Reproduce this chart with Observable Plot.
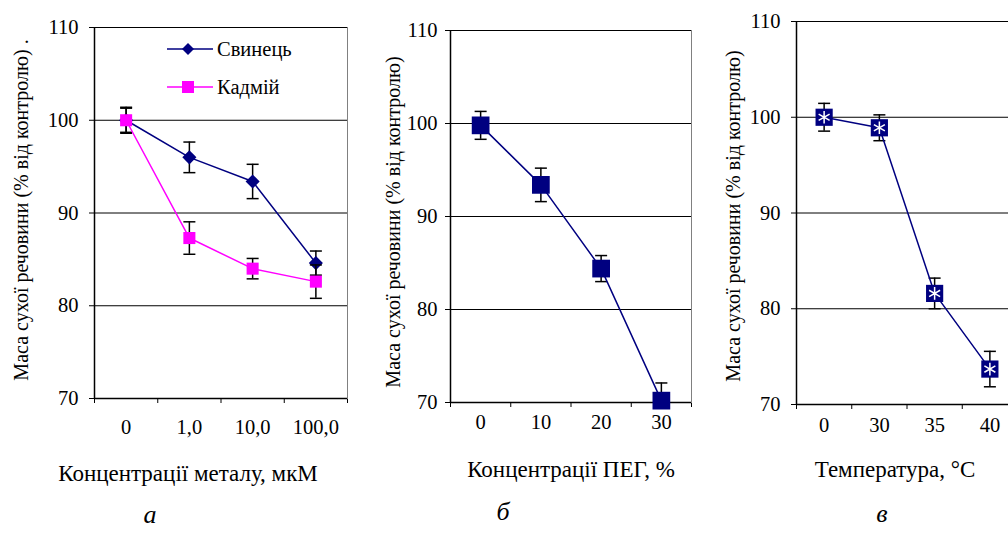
<!DOCTYPE html>
<html>
<head>
<meta charset="utf-8">
<script src="https://cdn.jsdelivr.net/npm/d3@7"></script>
<script src="https://cdn.jsdelivr.net/npm/@observablehq/plot@0.6"></script>
<style>
  html, body { margin: 0; padding: 0; background: #fff; }
  body { width: 1008px; height: 533px; overflow: hidden; position: relative; color: #000; }
  .abs { position: absolute; white-space: nowrap; line-height: 1; font-family: 'Liberation Serif', serif; }
  .c { transform: translate(-50%, -50%); }
  .rot { transform: translate(-50%, -50%) rotate(-90deg); }
  .panel { position: absolute; top: 0; }
</style>
</head>
<body>
<script>
// ---- data ----
const yTicks = [70, 80, 90, 100, 110];

const catsA = ["0", "1,0", "10,0", "100,0"];
const leadVals = [100, 96.0, 93.4, 84.6];
const leadErr = [1.4, 1.65, 1.85, 1.3];
const cadVals = [100, 87.3, 84.0, 82.6];
const cadErr = [1.3, 1.75, 1.1, 1.8];

const catsB = ["0", "10", "20", "30"];
const pegVals = [99.8, 93.4, 84.4, 70.2];
const pegErr = [1.5, 1.8, 1.4, 1.9];

const catsC = ["0", "30", "35", "40"];
const tempVals = [100, 98.9, 81.6, 73.7];
const tempErr = [1.45, 1.35, 1.6, 1.85];

const yTitle = "Маса сухої речовини (% від контролю)";

// ---- helpers ----
const SERIF = "'Liberation Serif', serif";
const NAVY = "#000080", MAGENTA = "#ff00ff";
const capSymbol = {
  draw(ctx, size) {
    const w = Math.sqrt(size / Math.PI);
    ctx.moveTo(-w, 0); ctx.lineTo(w, 0);
  }
};

function rows(vals, errs) {
  return vals.map((v, i) => ({i, v, e: errs[i]}));
}

function seriesMarks(data, color, markers) {
  return [
    Plot.ruleX(data, {x: "i", y1: d => d.v - d.e, y2: d => d.v + d.e, stroke: "black", strokeWidth: 1.5, clip: true}),
    Plot.dot(data, {x: "i", y: d => d.v + d.e, symbol: capSymbol, r: 6, stroke: "black", fill: "none", strokeWidth: 1.5, clip: true}),
    Plot.dot(data, {x: "i", y: d => d.v - d.e, symbol: capSymbol, r: 6, stroke: "black", fill: "none", strokeWidth: 1.5, clip: true}),
    Plot.line(data, {x: "i", y: "v", stroke: color, strokeWidth: 1.5}),
    ...markers(data)
  ];
}

function panel({cats, series, left, width, marginLeft, marginTop, plotBottom, tickPadding, catDy}) {
  const height = 445;
  const n = cats.length;
  const bounds = d3.range(n + 1).map(k => k - 0.5);
  const svg = Plot.plot({
    width, height,
    marginLeft, marginRight: 1, marginTop, marginBottom: height - plotBottom,
    style: {fontFamily: SERIF, fontSize: "20.5px", background: "transparent", overflow: "visible", maxWidth: "none", color: "black"},
    x: {domain: [-0.5, n - 0.5], ticks: bounds, tickFormat: () => "", tickSize: 5, label: null},
    y: {domain: [70, 110], ticks: yTicks, tickSize: 5, tickPadding, label: null},
    marks: [
      Plot.frame({stroke: "#808080"}),
      Plot.ruleY(yTicks, {stroke: "black", strokeWidth: 1}),
      Plot.ruleX([-0.5], {stroke: "black", strokeWidth: 1.5}),
      Plot.ruleY([70], {stroke: "black", strokeWidth: 1.5}),
      ...series.flat(),
      Plot.text(cats, {x: (d, i) => i, text: d => d, frameAnchor: "bottom", dy: catDy, fontSize: 20.5, fontFamily: SERIF})
    ]
  });
  svg.classList.add("panel");
  svg.style.left = left + "px";
  svg.style.fontFamily = SERIF;
  document.body.appendChild(svg);
}

function label(text, x, y, cls, extra = "") {
  const d = document.createElement("div");
  d.className = "abs " + cls;
  d.style.cssText = `left:${x}px;top:${y}px;font-family:'Liberation Serif', serif;${extra}`;
  d.textContent = text;
  document.body.appendChild(d);
}

// ---- panel a ----
const leadRows = rows(leadVals, leadErr);
const cadRows = rows(cadVals, cadErr);
panel({
  cats: catsA, left: 0, width: 348, marginLeft: 94, marginTop: 27, plotBottom: 398, tickPadding: 11, catDy: 35,
  series: [
    seriesMarks(leadRows, NAVY, d => [Plot.dot(d, {x: "i", y: "v", symbol: "diamond2", r: 5.4, fill: NAVY, stroke: NAVY})]),
    seriesMarks(cadRows, MAGENTA, d => [Plot.dot(d, {x: "i", y: "v", symbol: "square", r: 6.8, fill: MAGENTA})])
  ]
});

// ---- panel b ----
const pegRows = rows(pegVals, pegErr);
panel({
  cats: catsB, left: 340, width: 352, marginLeft: 110, marginTop: 30, plotBottom: 402, tickPadding: 8, catDy: 26.5,
  series: [
    seriesMarks(pegRows, NAVY, d => [Plot.dot(d, {x: "i", y: "v", symbol: "square", r: 10, fill: NAVY})])
  ]
});

// ---- panel c ----
const tempRows = rows(tempVals, tempErr);
panel({
  cats: catsC, left: 680, width: 338, marginLeft: 116, marginTop: 21, plotBottom: 404, tickPadding: 11, catDy: 27,
  series: [
    seriesMarks(tempRows, NAVY, d => [
      Plot.dot(d, {x: "i", y: "v", symbol: "square", r: 9.7, fill: NAVY}),
      Plot.dot(d, {x: "i", y: "v", symbol: "asterisk", r: 6, stroke: "white", strokeWidth: 1.5})
    ])
  ]
});

// ---- titles ----
label(yTitle + " .", 21, 210, "rot", "font-size:20px");
label(yTitle, 393, 222, "rot", "font-size:20px");
label(yTitle, 733, 216, "rot", "font-size:20px");

label("Концентрації металу, мкМ", 188, 473, "c", "font-size:23px");
label("Концентрації ПЕГ, %", 571, 469, "c", "font-size:23px");
label("Температура, °C", 895, 469, "c", "font-size:23px");

label("а", 150, 515, "c", "font-size:26px;font-style:italic");
label("б", 503, 512, "c", "font-size:26px;font-style:italic");
label("в", 882, 514, "c", "font-size:26px;font-style:italic");

// ---- legend (panel a) ----
function legendItem(y, color, symbolType, r, text) {
  const wrap = document.createElement("div");
  wrap.className = "abs";
  wrap.style.cssText = `left:165px;top:${y - 12}px;height:24px;display:flex;align-items:center;font-size:20.5px;font-family:'Liberation Serif', serif;`;
  const sw = d3.create("svg").attr("width", 50).attr("height", 24);
  sw.append("line").attr("x1", 2).attr("x2", 48).attr("y1", 12).attr("y2", 12).attr("stroke", color).attr("stroke-width", 1.5);
  sw.append("path").attr("transform", "translate(23,12)").attr("d", d3.symbol(symbolType, Math.PI * r * r)()).attr("fill", color);
  wrap.appendChild(sw.node());
  const t = document.createElement("span");
  t.textContent = text;
  t.style.marginLeft = "2px";
  wrap.appendChild(t);
  document.body.appendChild(wrap);
}
legendItem(49, NAVY, d3.symbolDiamond2, 5.4, "Свинець");
legendItem(87, MAGENTA, d3.symbolSquare, 6.8, "Кадмій");
</script>
</body>
</html>
